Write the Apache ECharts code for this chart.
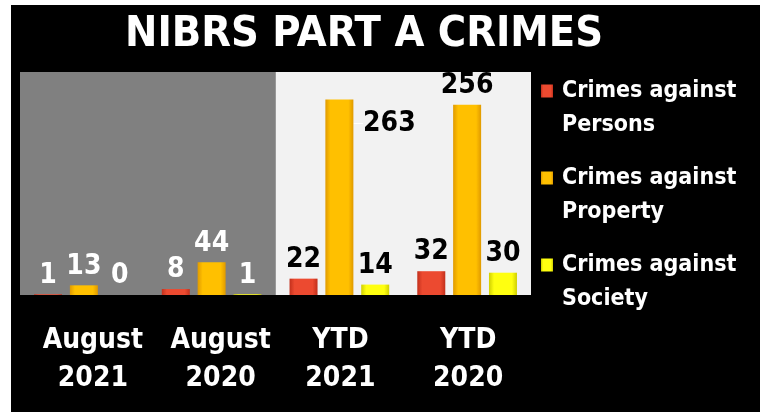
<!DOCTYPE html>
<html>
<head>
<meta charset="utf-8">
<script src="https://cdn.jsdelivr.net/npm/echarts@6/dist/echarts.min.js"></script>
<style>
html,body{margin:0;padding:0;background:#fff;width:760px;height:412px;overflow:hidden;}
#c{position:absolute;left:11px;top:5px;width:749px;height:407px;background:#000;}
</style>
</head>
<body>
<div id="c"></div>
<script>
var titleText = 'NIBRS PART A CRIMES';
var categories = ['August\n2021', 'August\n2020', 'YTD\n2021', 'YTD\n2020'];
var seriesNames = ['Crimes against Persons', 'Crimes against Property', 'Crimes against Society'];
var persons = [1, 8, 22, 32];
var property = [13, 44, 263, 256];
var society = [0, 1, 14, 30];

var FONT = 'DejaVu Sans Condensed';

function grad(dark, light) {
  return new echarts.graphic.LinearGradient(0, 0, 1, 0, [
    {offset: 0, color: dark},
    {offset: 0.18, color: light},
    {offset: 0.82, color: light},
    {offset: 1, color: dark}
  ]);
}

var colors = [
  grad('#c2301c', '#ec4a30'),
  grad('#e09a00', '#ffc000'),
  grad('#cfcf00', '#ffff10')
];

function makeData(vals, s) {
  return vals.map(function (v, i) {
    var d = {value: v, label: {color: i < 2 ? '#ffffff' : '#000000'}};
    if (s === 1 && i === 2) {
      d.labelLine = {show: true, lineStyle: {color: '#ffffff', width: 1}};
    }
    return d;
  });
}

var allValues = [persons, property, society];

var series = allValues.map(function (vals, s) {
  var obj = {
    name: seriesNames[s],
    type: 'bar',
    data: makeData(vals, s),
    barWidth: 28,
    barGap: '28%',
    itemStyle: {color: colors[s]},
    label: {
      show: true,
      position: 'top',
      distance: 5,
      fontFamily: FONT,
      fontWeight: 'bold',
      fontSize: 28
    }
  };
  if (s === 1) {
    obj.labelLine = {show: false};
    obj.labelLayout = function (p) {
      if (p.dataIndex === 2) return {dx: 50, dy: 43};
      return {};
    };
  }
  return obj;
});

var lblStyle = {color: '#ffffff', fontFamily: FONT, fontWeight: 'bold', fontSize: 28, lineHeight: 38};

var chart = echarts.init(document.getElementById('c'));
chart.setOption({
  backgroundColor: '#000000',
  animation: false,
  title: {
    text: titleText,
    left: 114,
    top: 8,
    padding: 0,
    textStyle: {color: '#ffffff', fontFamily: FONT, fontWeight: 'bold', fontSize: 43, lineHeight: 43}
  },
  legend: {
    orient: 'vertical',
    left: 530,
    top: 35,
    padding: 0,
    itemWidth: 12,
    itemHeight: 13,
    itemGap: -15,
    icon: 'rect',
    data: seriesNames,
    formatter: function (n) { return ' \n' + n.replace(' against ', ' against\n'); },
    textStyle: {color: '#ffffff', fontFamily: FONT, fontWeight: 'bold', fontSize: 23, lineHeight: 34, padding: [0, 0, 0, 4]}
  },
  grid: {left: 9, top: 67, width: 511, height: 223},
  xAxis: {
    type: 'category',
    data: categories,
    axisLine: {show: false},
    axisTick: {show: false},
    splitLine: {show: false},
    splitArea: {show: true, interval: 0, areaStyle: {color: ['#808080', '#808080', '#f2f2f2', '#f2f2f2']}},
    axisLabel: {
      interval: 0,
      color: '#ffffff', fontFamily: FONT, fontWeight: 'bold', fontSize: 28, lineHeight: 38, margin: 27,
      formatter: function (v) {
        var parts = v.split('\n');
        var key = parts[0] === 'August' ? 'aug' : 'ytd';
        return '{' + key + '|' + parts[0] + '}\n{' + key + '|' + parts[1] + '}';
      },
      rich: {
        aug: Object.assign({padding: [0, 0, 0, 18]}, lblStyle),
        ytd: Object.assign({padding: [0, 0, 0, 2]}, lblStyle)
      }
    }
  },
  yAxis: {
    type: 'value',
    min: 0,
    max: 300,
    show: false,
    splitLine: {show: false}
  },
  series: series
});
</script>
</body>
</html>
